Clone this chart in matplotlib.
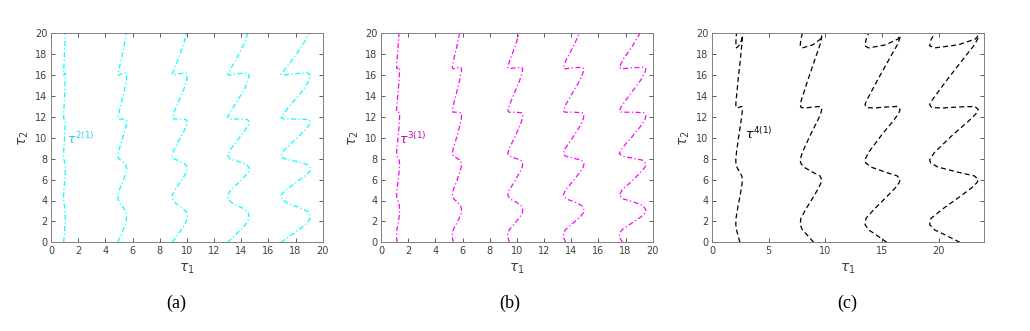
import matplotlib
matplotlib.use("Agg")
import matplotlib.pyplot as plt

# ---------------- data ----------------
# panel (a): shared tau2 samples, one tau1 array per branch
tau2_a = [0, .6, 1.3, 1.9, 2.4, 2.9, 3.3, 3.7, 4.1, 4.5, 5.0, 5.7, 6.4, 6.8, 7.1, 7.45, 7.75, 8.0, 8.3, 8.8,
          9.7, 10.6, 11.2, 11.55, 11.75, 11.8, 11.8, 11.95, 12.4, 13.5, 14.6, 15.5, 16.0, 16.2, 16.15, 16.0,
          16.1, 16.8, 18.0, 19.2, 20.0]
a1 = [0.93, 0.97, 1.01, 1.04, 1.05, 1.04, 1.01, 0.96, 0.93, 0.93, 0.95, 0.99, 1.03, 1.05, 1.05, 1.04, 0.99, 0.94,
      0.93, 0.94, 0.98, 1.02, 1.04, 1.05, 1.04, 0.99, 0.94, 0.93, 0.94, 0.98, 1.02, 1.04, 1.05, 1.04, 0.99, 0.94,
      0.93, 0.95, 0.99, 1.03, 1.04]
a2 = [4.92, 5.12, 5.34, 5.51, 5.57, 5.52, 5.34, 5.08, 4.94, 4.92, 5.02, 5.25, 5.46, 5.56, 5.57, 5.49, 5.25, 4.99,
      4.92, 4.99, 5.20, 5.41, 5.54, 5.57, 5.51, 5.25, 4.99, 4.92, 4.99, 5.20, 5.41, 5.54, 5.57, 5.51, 5.25, 4.97,
      4.92, 5.05, 5.26, 5.44, 5.52]
a3 = [8.93, 9.26, 9.65, 9.92, 10.03, 9.95, 9.65, 9.21, 8.96, 8.93, 9.10, 9.48, 9.84, 10.01, 10.03, 9.90, 9.48, 9.04,
      8.93, 9.04, 9.40, 9.77, 9.98, 10.03, 9.92, 9.48, 9.04, 8.93, 9.04, 9.40, 9.77, 9.98, 10.03, 9.92, 9.48, 9.02,
      8.93, 9.15, 9.50, 9.81, 9.95]
a4 = [13.0, 13.48, 14.04, 14.44, 14.6, 14.49, 14.04, 13.4, 13.05, 13.0, 13.24, 13.8, 14.33, 14.57, 14.6, 14.41, 13.8,
      13.16, 13.0, 13.16, 13.69, 14.22, 14.52, 14.6, 14.44, 13.8, 13.16, 13.0, 13.16, 13.69, 14.22, 14.52, 14.6,
      14.44, 13.8, 13.13, 13.0, 13.32, 13.83, 14.28, 14.49]
a5 = [16.93, 17.58, 18.35, 18.89, 19.11, 18.96, 18.35, 17.48, 17.0, 16.93, 17.26, 18.02, 18.74, 19.07, 19.11, 18.85,
      18.02, 17.15, 16.93, 17.15, 17.87, 18.59, 19.0, 19.11, 18.89, 18.02, 17.15, 16.93, 17.15, 17.87, 18.59, 19.0,
      19.11, 18.89, 18.02, 17.10, 16.93, 17.37, 18.06, 18.67, 18.96]

# panel (b)
tau2_b = [0, .4, .8, 1.2, 1.8, 2.4, 2.8, 3.1, 3.5, 3.85, 4.15, 4.5, 5.0, 5.8, 6.7, 7.2, 7.5, 7.85, 8.05, 8.25,
          8.5, 9.0, 10.0, 11.1, 11.8, 12.15, 12.4, 12.45, 12.45, 12.6, 13.1, 14.3, 15.5, 16.3, 16.6, 16.75, 16.7,
          16.6, 16.75, 17.5, 18.6, 20.0]
b1 = [1.18, 1.15, 1.15, 1.17, 1.25, 1.33, 1.36, 1.37, 1.35, 1.27, 1.18, 1.15, 1.17, 1.25, 1.33, 1.36, 1.37, 1.34,
      1.26, 1.17, 1.15, 1.17, 1.25, 1.33, 1.36, 1.37, 1.35, 1.26, 1.17, 1.15, 1.17, 1.25, 1.33, 1.36, 1.37, 1.35,
      1.26, 1.17, 1.15, 1.18, 1.25, 1.32]
b2 = [5.33, 5.26, 5.25, 5.32, 5.56, 5.79, 5.91, 5.93, 5.86, 5.62, 5.35, 5.25, 5.32, 5.56, 5.79, 5.91, 5.93, 5.85,
      5.59, 5.32, 5.25, 5.32, 5.56, 5.79, 5.91, 5.93, 5.88, 5.59, 5.30, 5.25, 5.32, 5.56, 5.79, 5.91, 5.93, 5.88,
      5.59, 5.30, 5.25, 5.35, 5.56, 5.78]
b3 = [9.46, 9.35, 9.33, 9.44, 9.83, 10.21, 10.40, 10.43, 10.32, 9.94, 9.50, 9.33, 9.44, 9.83, 10.21, 10.40, 10.43,
      10.30, 9.88, 9.44, 9.33, 9.44, 9.83, 10.21, 10.40, 10.43, 10.34, 9.88, 9.42, 9.33, 9.44, 9.83, 10.21, 10.40,
      10.43, 10.34, 9.88, 9.42, 9.33, 9.50, 9.83, 10.19]
b4 = [13.60, 13.45, 13.42, 13.57, 14.10, 14.64, 14.89, 14.94, 14.79, 14.26, 13.65, 13.42, 13.57, 14.10, 14.64, 14.89,
      14.94, 14.76, 14.18, 13.57, 13.42, 13.57, 14.10, 14.64, 14.89, 14.94, 14.82, 14.18, 13.54, 13.42, 13.57, 14.10,
      14.64, 14.89, 14.94, 14.82, 14.18, 13.54, 13.42, 13.65, 14.10, 14.61]
b5 = [17.78, 17.58, 17.54, 17.74, 18.42, 19.11, 19.44, 19.50, 19.30, 18.62, 17.83, 17.54, 17.74, 18.42, 19.11, 19.44,
      19.50, 19.27, 18.52, 17.74, 17.54, 17.74, 18.42, 19.11, 19.44, 19.50, 19.34, 18.52, 17.70, 17.54, 17.74, 18.42,
      19.11, 19.44, 19.50, 19.34, 18.52, 17.70, 17.54, 17.83, 18.42, 19.07]

# panel (c)
tau2_c = [0.0, 0.73, 1.2, 1.7, 2.3, 3.3, 4.3, 5.2, 5.7, 6.0, 6.35, 6.7, 7.2, 7.6, 7.9, 8.6, 10.3, 11.6, 12.3, 12.7,
          13.0, 12.95, 12.85, 12.9, 13.2, 13.6, 15.5, 17.6, 18.9, 19.5, 19.8, 19.45, 18.9, 18.6, 18.8, 19.4, 20.0]
c1 = [2.46, 2.28, 2.16, 2.10, 2.12, 2.27, 2.45, 2.60, 2.66, 2.68, 2.63, 2.44, 2.20, 2.11, 2.10, 2.16, 2.38, 2.56,
      2.65, 2.68, 2.64, 2.45, 2.25, 2.12, 2.10, 2.13, 2.30, 2.51, 2.63, 2.67, 2.68, 2.65, 2.44, 2.16, 2.10, 2.12, 2.16]
c2 = [8.96, 8.37, 7.97, 7.78, 7.84, 8.35, 8.92, 9.41, 9.62, 9.68, 9.53, 8.90, 8.10, 7.82, 7.78, 7.97, 8.69, 9.30,
      9.59, 9.68, 9.55, 8.92, 8.26, 7.86, 7.78, 7.88, 8.45, 9.11, 9.53, 9.66, 9.68, 9.57, 8.90, 7.97, 7.78, 7.84, 7.97]
c3 = [15.42, 14.46, 13.81, 13.50, 13.59, 14.43, 15.36, 16.17, 16.51, 16.60, 16.35, 15.33, 14.03, 13.56, 13.50, 13.81,
      14.99, 15.98, 16.45, 16.60, 16.38, 15.36, 14.28, 13.62, 13.50, 13.66, 14.59, 15.67, 16.35, 16.57, 16.60, 16.41,
      15.33, 13.81, 13.50, 13.59, 13.81]
c4 = [21.87, 20.53, 19.63, 19.20, 19.33, 20.49, 21.78, 22.90, 23.37, 23.50, 23.16, 21.74, 19.93, 19.29, 19.20, 19.63,
      21.26, 22.64, 23.29, 23.50, 23.20, 21.78, 20.28, 19.37, 19.20, 19.42, 20.71, 22.21, 23.16, 23.46, 23.50, 23.24,
      21.74, 19.63, 19.20, 19.33, 19.63]

xticks_ab = [0, 2, 4, 6, 8, 10, 12, 14, 16, 18, 20]
xticks_c = [0, 5, 10, 15, 20]
yticks = [0, 2, 4, 6, 8, 10, 12, 14, 16, 18, 20]
captions = ["(a)", "(b)", "(c)"]
labels = [r"$\tau^{2(1)}$", r"$\tau^{3(1)}$", r"$\tau^{4(1)}$"]

# ---------------- figure ----------------
W, H = 1030, 331
fig = plt.figure(figsize=(W / 100, H / 100), dpi=100)

def ax_at(x0, x1, y_top, y_bot):
    return fig.add_axes([x0 / W, 1 - y_bot / H, (x1 - x0) / W, (y_bot - y_top) / H])

axA = ax_at(51, 322.7, 33.3, 242.3)
axB = ax_at(381, 652.7, 33.3, 242.3)
axC = ax_at(712, 984, 33.3, 242.3)

panels = [
    (axA, tau2_a, [a1, a2, a3, a4, a5], "#00FFFF", (0, (4, 2, 1, 2)), 20, xticks_ab, (1.15, 9.4), "#33C8F0"),
    (axB, tau2_b, [b1, b2, b3, b4, b5], "#FF00FF", (0, (4, 2, 1, 2)), 20, xticks_ab, (1.3, 9.4), "#C000C0"),
    (axC, tau2_c, [c1, c2, c3, c4], "black", (0, (4, 2.5)), 24, xticks_c, (2.9, 9.9), "black"),
]

grey = "#404040"
for i, (ax, t2, curves, col, ls, xmax, xt, lpos, lcol) in enumerate(panels):
    for t1 in curves:
        ax.plot(t1, t2, color=col, lw=0.9, linestyle=ls)
    ax.set_xlim(0, xmax)
    ax.set_ylim(0, 20)
    ax.set_xticks(xt)
    ax.set_yticks(yticks)
    ax.tick_params(direction="in", length=3, width=0.6, labelsize=7, colors=grey,
                   top=True, right=True, pad=2.5)
    for s in ax.spines.values():
        s.set_color("#808080")
        s.set_linewidth(0.7)
    ax.set_xlabel(r"$\tau_1$", fontsize=10, color=grey, labelpad=4)
    ax.set_ylabel(r"$\tau_2$", fontsize=10, color=grey, labelpad=3)
    ax.text(lpos[0], lpos[1], labels[i], color=lcol, fontsize=9)

cap_x = [176, 510, 847]
for cx, cap in zip(cap_x, captions):
    fig.text(cx / W, 1 - 303 / H, cap, ha="center", va="center",
             fontsize=13, family="Liberation Serif", color="black")

fig.savefig("out.png", dpi=100)
